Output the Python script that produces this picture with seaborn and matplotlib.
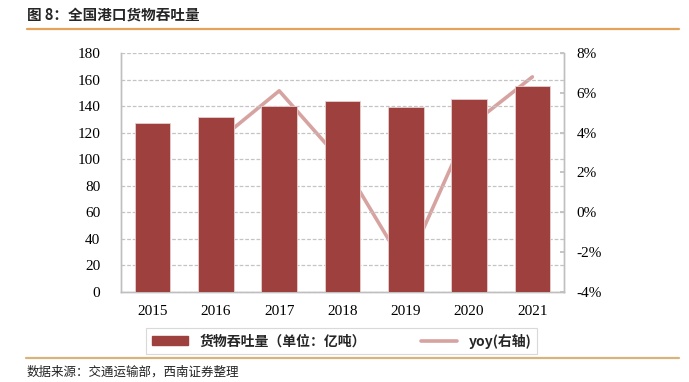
import numpy as np
import pandas as pd
import matplotlib.pyplot as plt
import seaborn as sns
from matplotlib.lines import Line2D
from matplotlib.patches import Patch

# data
years = ["2015", "2016", "2017", "2018", "2019", "2020", "2021"]
throughput = [127.5, 132.0, 140.1, 143.5, 139.5, 145.5, 155.5]   # 亿吨
yoy = [np.nan, 3.5, 6.1, 2.5, -2.8, 4.3, 6.8]                  # %

bar_color = "#9E403E"
line_color = "#D6A3A1"
grid_color = "#C4C4C4"

df = pd.DataFrame({"year": years, "throughput": throughput, "yoy": yoy})
df["pos"] = range(len(df))

sns.set_theme(style="white")
plt.rcParams["font.family"] = ["Liberation Serif", "Noto Sans CJK SC"]
cjk = ["Noto Sans CJK SC", "DejaVu Sans"]

fig = plt.figure(figsize=(6.89, 3.82), dpi=100)
ax = fig.add_axes([0.1756, 0.2356, 0.643, 0.6257])
ax2 = ax.twinx()

sns.barplot(data=df, x="year", y="throughput", color=bar_color, width=0.56,
            saturation=1, ax=ax, zorder=3, edgecolor="#E8D0CF", linewidth=0.6)
sns.lineplot(data=df, x="pos", y="yoy", color=line_color, linewidth=2.6,
             ax=ax2, zorder=2)

# bars in front of the line
ax.set_zorder(ax2.get_zorder() + 1)
ax.patch.set_visible(False)

ax.set_ylim(0, 180)
ax.set_yticks(range(0, 181, 20))
ax.set_xlim(-0.5, len(years) - 0.5)
ax2.set_ylim(-4, 8)
ax2.set_yticks(range(-4, 9, 2))
ax2.set_yticklabels([f"{v}%" for v in range(-4, 9, 2)])

ax.yaxis.grid(True, linestyle=(0, (3, 1.5)), color=grid_color, linewidth=0.9, zorder=0)
ax.set_axisbelow(True)
ax.set_xlabel("")
ax.set_ylabel("")
ax2.set_xlabel("")
ax2.set_ylabel("")

for a in (ax, ax2):
    for s in a.spines.values():
        s.set_color("#BFBFBF")
        s.set_linewidth(1.0)
    a.spines["top"].set_visible(False)

ax.tick_params(axis="y", labelsize=11, colors="black", length=0, pad=15)
ax.tick_params(axis="x", labelsize=11, colors="black", length=0, pad=9)
ax.set_xticks(np.arange(-0.5, len(years), 1), minor=True)
ax.tick_params(axis="x", which="minor", length=4, color="#BFBFBF", direction="out")
ax2.tick_params(axis="y", labelsize=11, colors="black", length=3,
                direction="in", color="#BFBFBF", pad=9)
for t in ax2.get_yticklabels():
    t.set_color("black")

# legend
handles = [Patch(facecolor=bar_color, edgecolor=bar_color),
           Line2D([0], [0], color=line_color, linewidth=2.6)]
labels = ["货物吞吐量（单位：亿吨）", "yoy(右轴)"]
leg = fig.legend(handles, labels, loc="center", bbox_to_anchor=(0.4957, 0.107),
                 ncol=2, frameon=True, fancybox=False, handlelength=2.6,
                 handleheight=0.6, columnspacing=4.0, borderpad=0.4,
                 prop={"family": cjk, "weight": "bold", "size": 10})
leg.get_frame().set_edgecolor("#D0D0D0")
leg.get_frame().set_linewidth(0.8)

# title, rules and source
fig.text(27 / 689, 1 - 15 / 382, "图 8：全国港口货物吞吐量", family=cjk,
         weight="bold", size=10.5, va="center", ha="left")
fig.add_artist(Line2D([27 / 689, 679 / 689], [1 - 28.5 / 382] * 2,
                      color="#E3A35A", linewidth=1.6))
fig.add_artist(Line2D([26 / 689, 679 / 689], [1 - 357.7 / 382] * 2,
                      color="#D8B47C", linewidth=1.6))
fig.text(27 / 689, 1 - 372 / 382, "数据来源：交通运输部，西南证券整理", family=cjk,
         size=9, style="italic", va="center", ha="left", color="#222222")

fig.savefig("out.png", dpi=100)
